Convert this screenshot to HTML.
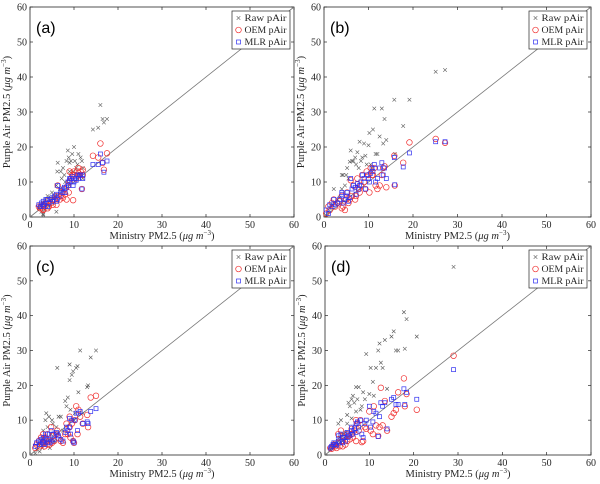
<!DOCTYPE html>
<html><head><meta charset="utf-8"><style>
html,body{margin:0;padding:0;background:#fff;}
svg{display:block;font-family:"Liberation Serif",serif;}
</style></head><body>
<svg id="fig" width="600" height="484" viewBox="0 0 600 484"></svg>
<script>
// Panel (a)
const ministryA=[2,2.3,2.6,3,3,3.3,3.6,4,4,4.3,4.7,5,5.2,5.6,6,6,6.3,6.8,7,7.2,7.5,7.8,8,8.3,8.6,8.8,9,9,9.3,9.6,10,10.2,10.5,10.8,11,11.2,11.5,11.8,12,12,14.3,15.5,16,16.5,16.8,17.5,9.8,3,6.2];
const rawA=[2.5,3,1.5,0.8,4,2,5,3.5,6,3,5.5,7,4,6,1.5,9,15.5,8,13,11,14,12,10,16,19,17,13,15.5,16,18,20,16,14,15,18,12,17,16,14,11,25,25.5,32,28,27,28,13,0.5,13];
const oemA=[3,2.5,3,2.2,3.5,3,4,2.5,4.5,3,4,4.8,3.5,5,3.5,6,9,5,6,7,5.5,8,6.5,5,9,7,13,10,11,12,13,12,11,13,14,12,13,8,13.5,12,17.5,17,21,15.5,13.5,18.2,4.8,2,5.5];
const mlrA=[3.5,3,4,3,4.5,3.5,5,3,5,4,5,5.5,4.5,6,4.5,6.5,9,6,7.5,8,7,8.5,7,8.5,10,9,11,10.5,11,11.5,10,11,10.5,12,11,12,12,8,12,11,15,15,18,15.5,12.8,16,9,3.5,5];
// Panel (b)
const ministryB=[0.5,1,1.3,1.8,2.2,2.5,3,3.5,4,4,4.3,4.7,5,5.2,5.5,5.8,6,6.3,6.6,7,7.2,7.5,7.8,8,8.3,8.6,9,9.3,9.6,10,10.2,10.5,10.8,11,11.3,11.6,12,12.5,13,13.3,13.6,14,15.8,15.9,17.8,19.2,25.1,27.2];
const rawB=[0.5,1.5,2.5,3.5,8,4,5,5.5,8,12,12,9,12,14,11,15.8,19,16,16,17,15,18.5,14,21.5,16,17,21,17.5,15,20.5,24,15,14,25,31,18,18,23,31,21,28,22,33.5,18,26,33.5,41.5,42];
const oemB=[1,3,2,4,5,3,4,4.5,2.5,6,3,2,5,7,4,5,10.5,6,9,5,6,11,8,7,9,12,10,8,13,12,7,14,12,12,14,9,8,9,12,14,14.5,8.5,17.5,9,15.5,21.3,22.3,21.2];
const mlrB=[2,1,3.5,3,5,3.5,4,5,6.5,7,4,5,6,7,4.5,5.5,11,8,9,8.5,6.5,9.5,8,9,10,12,11,8,12,11,10,12.5,14,13,15,10,11,14,15.5,12,14,11,17,9.2,14.3,18.3,21.5,21.5];
// Panel (c)
const ministryC=[1.2,1.5,2,2.2,2.5,2.8,3,3,3.3,3.5,3.7,4,4,4.3,4.5,4.8,5,5.2,5.5,6,6.2,6.5,7,7.5,8,8.3,8.6,9,9,9.2,9.5,9.8,10,10.2,10.5,10.8,11,11.4,12,13,13.2,13.8,15];
const rawC=[0.5,1.5,3,1,4,2,5,7,3,10,12,4,8,11,2,6,10,9,4,8,25,11,11,7,15.5,14,16.5,21.5,26,13,23,24,10,12,25,25.5,18,30,12,19.5,20,28,30];
const oemC=[2,3,4,2.5,5,3,3.5,6,2.5,5,4,3,6,4,3,8,3.5,5.5,4,6,7,5,4,3.5,6,9,6,8,11,5,9,4,3.5,10,14,6,13,11,9,11.5,8,16.5,17];
const mlrC=[2.5,3.5,4,3,4.5,3.5,4,5,3,6,4.5,3.5,6,4.5,3.5,7,4,6,4.5,6.5,6,5.5,4.5,4,6.5,8,7,8,10.5,6,10,4,3.5,10,12,7,12,12.5,9,9.5,9,12.5,13.3];
// Panel (d)
const ministryD=[1.2,1.5,1.8,2,2.3,2.6,3,3,3.3,3.6,4,4,4.3,4.6,5,5,5.3,5.6,6,6,6.3,6.6,7,7,7.3,7.6,8,8.3,8.6,9,9.3,10,10.3,10.8,11,11.5,12,12.3,12.6,13,13.5,14,15,15.5,16,16.5,17.8,18,18.4,20.7,29];
const rawD=[1.5,2,2.5,3,3.5,2.5,9,4,5,10,6,4,5,6.5,11.5,9,15,14,10.5,16,17,15,19.5,12.5,16,19.5,13,14,18,16,29,17.5,25,21,17,25,30,32,26.5,25,33,19,34,35.5,30,30,41,30.5,39,34,54];
const oemD=[2,1.8,2.5,3,2.5,2,6,3.5,2.5,7,4,2.5,5,3,6,4,5.5,4.5,7.5,6,5,7,10,4,9,7,10,3.7,4,8,7.5,12.5,7,6,14,8.5,5.5,8,19.3,8.5,15.5,7,11,12,13,18,22,14,17.5,13,28.5];
const mlrD=[2,2.5,3,3.5,3,2.8,5.5,4,3.5,6,5,3.5,5,4,6.5,5,6,5.5,8,7,6,7.5,9,6.5,9.5,8,10,6,5,9,10,14,8,9.5,12.5,12,5.3,11,15,14,15,7.5,16,16.5,14.5,14.5,19,14.5,18,16,24.5];

const panels=[
 {id:'a',L:30,R:294,T:7,B:217,mx:ministryA,raw:rawA,oem:oemA,mlr:mlrA},
 {id:'b',L:324,R:591,T:7,B:217,mx:ministryB,raw:rawB,oem:oemB,mlr:mlrB},
 {id:'c',L:30,R:294,T:246,B:455,mx:ministryC,raw:rawC,oem:oemC,mlr:mlrC},
 {id:'d',L:325,R:591,T:246,B:455,mx:ministryD,raw:rawD,oem:oemD,mlr:mlrD}];
const ticks=[0,10,20,30,40,50,60];
const NS='http://www.w3.org/2000/svg';
const svg=document.getElementById('fig');
function mk(tag,attrs,parent,text){const e=document.createElementNS(NS,tag);for(const k in attrs)e.setAttribute(k,attrs[k]);if(text!==undefined)e.textContent=text;parent.appendChild(e);return e;}
panels.forEach(p=>{
 const g=mk('g',{},svg);
 
 
 const xs=v=>p.L+(v/60)*(p.R-p.L), ys=v=>p.B-(v/60)*(p.B-p.T);
 const frame=mk('rect',{x:p.L,y:p.T,width:p.R-p.L,height:p.B-p.T,fill:'#fff',stroke:'#262626','stroke-width':0.8},g);
 
 
 ticks.forEach(t=>{
  mk('line',{x1:xs(t),x2:xs(t),y1:p.B,y2:p.B-3,stroke:'#262626','stroke-width':0.7},g);
  mk('line',{x1:xs(t),x2:xs(t),y1:p.T,y2:p.T+3,stroke:'#262626','stroke-width':0.7},g);
  mk('line',{x1:p.L,x2:p.L+3,y1:ys(t),y2:ys(t),stroke:'#262626','stroke-width':0.7},g);
  mk('line',{x1:p.R,x2:p.R-3,y1:ys(t),y2:ys(t),stroke:'#262626','stroke-width':0.7},g);
  const xl=mk('text',{x:xs(t),y:p.B+11,'font-size':10,'text-anchor':'middle',fill:'#262626'},g,t);
  
  
  const yl=mk('text',{x:p.L-3,y:ys(t)+3.5,'font-size':10,'text-anchor':'end',fill:'#262626'},g,t);
  
  
 });
 const dl=mk('line',{x1:xs(0),y1:ys(0),x2:xs(60),y2:ys(60),stroke:'#777','stroke-width':0.8},g);
 
 
 p.mx.forEach((x,i)=>{
  const X=xs(x),Y=ys(p.raw[i]);
  const m=mk('path',{d:`M${X-1.8},${Y-1.8}L${X+1.8},${Y+1.8}M${X-1.8},${Y+1.8}L${X+1.8},${Y-1.8}`,stroke:'#555','stroke-width':0.6,fill:'none'},g);
  
  
 });
 p.mx.forEach((x,i)=>{
  const c=mk('circle',{cx:xs(x),cy:ys(p.oem[i]),r:2.8,stroke:'#f03030','stroke-width':0.7,fill:'none'},g);
  
  
 });
 p.mx.forEach((x,i)=>{
  const s=mk('rect',{x:xs(x)-2,y:ys(p.mlr[i])-2,width:4,height:4,stroke:'#3030f0','stroke-width':0.7,fill:'none'},g);
  
  
 });
 const pl=mk('text',{x:p.L+6,y:p.T+26,'font-size':16,'font-family':'Liberation Sans, sans-serif',fill:'#000'},g,'('+p.id+')');
 
 
 // legend
 const lg=mk('g',{},g);
 
 
 const lx=p.R-62,ly=p.T+4;
 mk('rect',{x:lx,y:ly,width:58,height:38,fill:'#fff',stroke:'#262626','stroke-width':0.7},lg);
 const names=['Raw pAir','OEM pAir','MLR pAir'];
 names.forEach((n,k)=>{
  const cy=ly+7+k*12,cx=lx+6.5;
  if(k===0) mk('path',{d:`M${cx-1.8},${cy-1.8}L${cx+1.8},${cy+1.8}M${cx-1.8},${cy+1.8}L${cx+1.8},${cy-1.8}`,stroke:'#555','stroke-width':0.6},lg);
  if(k===1) mk('circle',{cx:cx,cy:cy,r:2.8,stroke:'#f03030','stroke-width':0.7,fill:'none'},lg);
  if(k===2) mk('rect',{x:cx-2,y:cy-2,width:4,height:4,stroke:'#3030f0','stroke-width':0.7,fill:'none'},lg);
  const t=mk('text',{x:lx+12.5,y:cy+3.2,'font-size':9,textLength:42,lengthAdjust:'spacingAndGlyphs',fill:'#262626'},lg,n);
  
  
 });
 const xt=mk('text',{x:(p.L+p.R)/2,y:p.B+22,'font-size':10.5,'text-anchor':'middle',fill:'#262626'},g);
 xt.innerHTML='Ministry PM2.5 (<tspan font-style="italic">μg m</tspan><tspan font-size="7" dy="-4">−3</tspan><tspan dy="4">)</tspan>';
 
 
 const cy=(p.T+p.B)/2, cxp=p.L-20;
 const yt=mk('text',{x:cxp,y:cy,'font-size':10.5,'text-anchor':'middle',fill:'#262626',transform:`rotate(-90 ${cxp} ${cy})`},g);
 yt.innerHTML='Purple Air PM2.5 (<tspan font-style="italic">μg m</tspan><tspan font-size="7" dy="-4">−3</tspan><tspan dy="4">)</tspan>';
 
 
});
</script>
</body></html>
